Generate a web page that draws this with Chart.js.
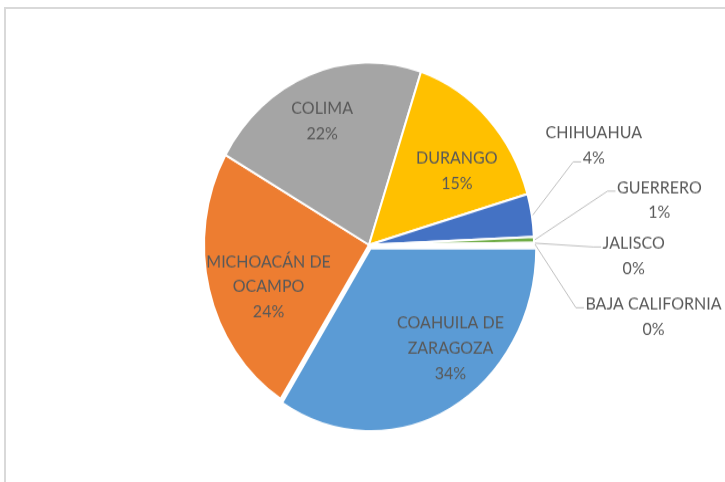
<!DOCTYPE html>
<html><head><meta charset="utf-8">
<script src="https://cdn.jsdelivr.net/npm/chart.js@4"></script>
<style>
html,body{margin:0;padding:0;background:#fff;overflow:hidden;width:725px;height:482px;}
#frame{position:absolute;left:4px;top:7px;width:730px;height:480px;border-top:2px solid #d9d9d9;border-left:2px solid #d9d9d9;box-sizing:border-box;}
#c{position:absolute;left:0;top:0;}
</style></head><body>
<div id="frame"></div>
<canvas id="c" width="725" height="436" style="width:725px;height:482px"></canvas>
<script>
// ---- data ----
const categories = ["COAHUILA DE ZARAGOZA", "MICHOACÁN DE OCAMPO", "COLIMA", "DURANGO", "CHIHUAHUA", "GUERRERO", "JALISCO", "BAJA CALIFORNIA"];
const shares = [34.0, 24.2, 21.9, 15.4, 3.8, 0.5, 0.1, 0.1];

// ---- styles ----
const sliceColors = ["#5B9BD5", "#ED7D31", "#A5A5A5", "#FFC000", "#4472C4", "#70AD47", "#264478", "#9E480E"];
const sliceOffsets = [14, 0, 0, 0, 0, 0, 0, 0];
const FONT = '16px Lato';
const TEXT_COLOR = '#595959';
const LINE_H = 22.6;
// label placement in polar terms relative to the pie (r = fraction of radius, a = degrees clockwise from 3 o'clock)
const labelLayout = [
  {r: 0.73, a: 48.5, wrap: 135},
  {r: 0.65, a: 159.5, wrap: 135},
  {r: 0.735, a: 247.3, wrap: 135},
  {r: 0.67, a: 322.6, wrap: 135},
  {r: 1.467, a: 338.2, wrap: 999, leader: true, attach: 1},
  {r: 1.777, a: 352.0, wrap: 999, leader: true, attach: 0},
  {r: 1.605, a: 2.1, wrap: 999, leader: true, attach: 0},
  {r: 1.768, a: 12.8, wrap: 999, leader: true, attach: 0}
];

function wrapText(ctx, text, maxW) {
  const words = text.split(' ');
  const out = [];
  let cur = '';
  words.forEach(w => {
    const test = cur ? cur + ' ' + w : w;
    if (cur && ctx.measureText(test).width > maxW) { out.push(cur); cur = w; }
    else cur = test;
  });
  if (cur) out.push(cur);
  return out;
}

const labelPlugin = {
  id: 'pieLabels',
  afterDatasetsDraw(chart) {
    const ctx = chart.ctx;
    const meta = chart.getDatasetMeta(0);
    const total = shares.reduce((a, b) => a + b, 0);
    ctx.save();
    ctx.font = FONT;
    ctx.fillStyle = TEXT_COLOR;
    ctx.textAlign = 'center';
    ctx.textBaseline = 'middle';
    meta.data.forEach((arc, i) => {
      const p = arc.getProps(['x', 'y', 'startAngle', 'endAngle', 'outerRadius'], true);
      const L = labelLayout[i];
      const mid = (p.startAngle + p.endAngle) / 2;
      const off = (sliceOffsets[i] || 0) / 4;
      const cx = p.x + Math.cos(mid) * off;
      const cy = p.y + Math.sin(mid) * off;
      const ang = L.a * Math.PI / 180;
      const bx = cx + Math.cos(ang) * L.r * p.outerRadius;
      const by = cy + Math.sin(ang) * L.r * p.outerRadius;
      const pct = Math.round(shares[i] / total * 100 + 1e-9) + '%';
      const lines = wrapText(ctx, categories[i], L.wrap).concat([pct]);
      const n = lines.length;
      lines.forEach((t, k) => {
        ctx.fillText(t, bx, by + (k - (n - 1) / 2) * LINE_H);
      });
      if (L.leader) {
        const t = lines[L.attach];
        const w = ctx.measureText(t).width;
        const ax = bx - w / 2 - 1.5;
        const ay = by + (L.attach - (n - 1) / 2) * LINE_H + 3.5;
        const sx = cx + Math.cos(mid) * (p.outerRadius + 1);
        const sy = cy + Math.sin(mid) * (p.outerRadius + 1);
        ctx.save();
        ctx.strokeStyle = '#bfbfbf';
        ctx.lineWidth = 1;
        ctx.beginPath();
        ctx.moveTo(sx, sy);
        ctx.lineTo(ax - 8, ay);
        ctx.lineTo(ax, ay);
        ctx.stroke();
        ctx.restore();
      }
    });
    ctx.restore();
  }
};

new Chart(document.getElementById('c'), {
  type: 'pie',
  data: {
    labels: categories,
    datasets: [{
      data: shares,
      backgroundColor: sliceColors,
      borderColor: '#ffffff',
      borderWidth: 2,
      offset: sliceOffsets,
      rotation: 90,
      radius: 165
    }]
  },
  options: {
    responsive: false,
    animation: false,
    events: [],
    layout: {padding: {left: 13, right: 0, top: 26, bottom: 19}},
    plugins: {legend: {display: false}, tooltip: {enabled: false}}
  },
  plugins: [labelPlugin]
});
</script>
</body></html>
